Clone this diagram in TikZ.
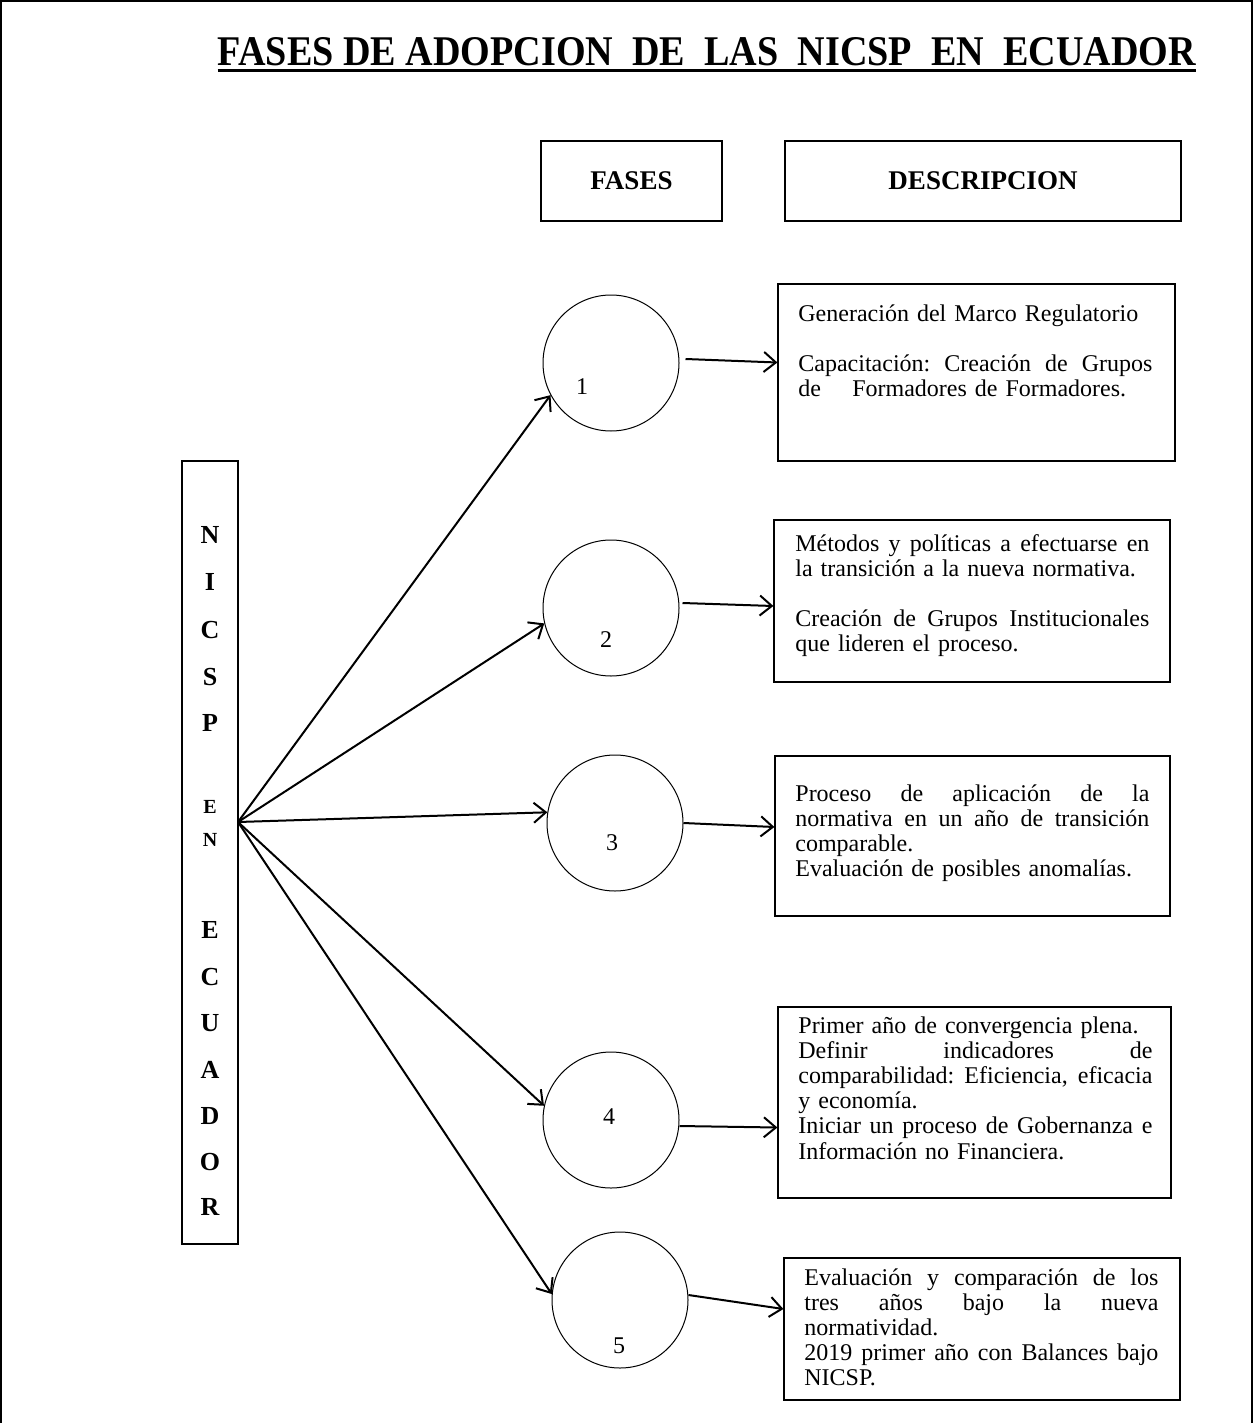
\documentclass[tikz,border=0pt]{standalone}
\usepackage{fontspec}
\usepackage{graphicx}
\setmainfont{Liberation Serif}
\usetikzlibrary{arrows.meta}
\tikzset{   fase/.style = {circle, draw, line width=0.5pt, minimum size=68pt, inner sep=0pt},
            desc/.style = {rectangle, draw, line width=0.6pt, inner sep=0pt},
            txt/.style = {anchor=north west, inner sep=0pt, text width=177pt, align=left, font=\fontsize{12}{12.6}\selectfont\frenchspacing},
            head/.style = {rectangle, draw, line width=0.6pt, minimum height=40pt, font=\bfseries\fontsize{13.5}{15}\selectfont},
            flecha/.style = {line width=1pt, -{Straight Barb[length=6pt,width=10pt]}}}
\newcommand{\jline}[1]{\makebox[\hsize][s]{\spaceskip=\fontdimen2\font plus 1fil\relax#1}\\}

\begin{document}
\begin{tikzpicture}[x=0.5pt, y=-0.5pt]
    \useasboundingbox (0,0) rectangle (1253,1423);
    \draw[line width=0.6pt] (1,1423) -- (1,1) -- (1252,1) -- (1252,1423);

    % titulo
    \node[anchor=base, inner sep=0pt] (titulo) at (707,66)
        {\resizebox{489pt}{14pt}{\bfseries FASES DE ADOPCION\ \ DE\ \ LAS\ \ NICSP\ \ EN\ \ ECUADOR}};
    \draw[line width=1.5pt] ([yshift=-2pt]titulo.south west) -- ([yshift=-2pt]titulo.south east);

    \node[head, minimum width=90.5pt] (fases) at (631.5,181) {FASES};
    \node[head, minimum width=198pt] (descripcion) at (983,181) {DESCRIPCION};

    % caja vertical
    \node[desc, minimum width=28pt, minimum height=391.5pt] (nicsp) at (210,852.5) {};
    \foreach \ch/\yy [count=\i] in {N/535, I/582, C/630, S/677, P/723, E/930, C/977, U/1023, A/1070, D/1116, O/1162, R/1207}
        \node[font=\bfseries\fontsize{13}{15}\selectfont, inner sep=0pt] (letra\i) at (210,\yy) {\ch};
    \foreach \ch/\yy [count=\i] in {E/807, N/840}
        \node[font=\bfseries\fontsize{10}{12}\selectfont, inner sep=0pt] (en\i) at (210,\yy) {\ch};
    \coordinate (hub) at (238,822);

    % fases
    \node[fase] (c1) at (611,363) {};
    \node[fase] (c2) at (611,608) {};
    \node[fase] (c3) at (615,823) {};
    \node[fase] (c4) at (611,1120) {};
    \node[fase] (c5) at (620,1300) {};
    \node[font=\fontsize{12}{14}\selectfont] (n1) at (582,387) {1};
    \node[font=\fontsize{12}{14}\selectfont] (n2) at (606,640) {2};
    \node[font=\fontsize{12}{14}\selectfont] (n3) at (612,843) {3};
    \node[font=\fontsize{12}{14}\selectfont] (n4) at (609,1117) {4};
    \node[font=\fontsize{12}{14}\selectfont] (n5) at (619,1346) {5};

    % descripciones
    \node[desc, minimum width=198.5pt, minimum height=88.5pt] (b1) at (976.5,372.5) {};
    \node[desc, minimum width=198pt, minimum height=81pt] (b2) at (972,601) {};
    \node[desc, minimum width=197.5pt, minimum height=80pt] (b3) at (972.5,836) {};
    \node[desc, minimum width=196.5pt, minimum height=95.5pt] (b4) at (974.5,1102.5) {};
    \node[desc, minimum width=198pt, minimum height=71pt] (b5) at (982,1329) {};

    \node[txt] (t1) at (798,303) {\strut Generación del Marco Regulatorio\\[12.6pt]
        \jline{Capacitación: Creación de Grupos}
        de\hspace{1.3em}Formadores de Formadores.};
    \node[txt] (t2) at (795,533) {\strut\jline{Métodos y políticas a efectuarse en}
        la transición a la nueva normativa.\\[12.6pt]
        \jline{Creación de Grupos Institucionales}
        que lideren el proceso.};
    \node[txt] (t3) at (795,783) {\strut\jline{Proceso de aplicación de la}
        \jline{normativa en un año de transición}
        comparable.\\
        Evaluación de posibles anomalías.};
    \node[txt] (t4) at (798,1015) {\strut Primer año de convergencia plena.\\
        \jline{Definir indicadores de}
        \jline{comparabilidad: Eficiencia, eficacia}
        y economía.\\
        \jline{Iniciar un proceso de Gobernanza e}
        Información no Financiera.};
    \node[txt] (t5) at (804,1267) {\strut\jline{Evaluación y comparación de los}
        \jline{tres años bajo la nueva}
        normatividad.\\
        \jline{2019 primer año con Balances bajo}
        NICSP.};

    % flechas
    \draw[flecha] (hub) -- (c1.208);
    \draw[flecha] (hub) -- (c2.193);
    \draw[flecha] (hub) -- (c3.171);
    \draw[flecha] (hub) -- (c4.168);
    \draw[flecha] (hub) -- (c5.175);

    \draw[flecha] ([xshift=3pt, yshift=2pt]c1.east) -- ([yshift=5pt]b1.west);
    \draw[flecha] ([xshift=1.5pt, yshift=2.5pt]c2.east) -- ([yshift=-2.5pt]b2.west);
    \draw[flecha] (c3.east) -- ([yshift=4.5pt]b3.west);
    \draw[flecha] ([yshift=-3pt]c4.east) -- ([yshift=-12.5pt]b4.west);
    \draw[flecha] ([yshift=2.5pt]c5.east) -- ([yshift=10pt]b5.west);
\end{tikzpicture}
\end{document}
